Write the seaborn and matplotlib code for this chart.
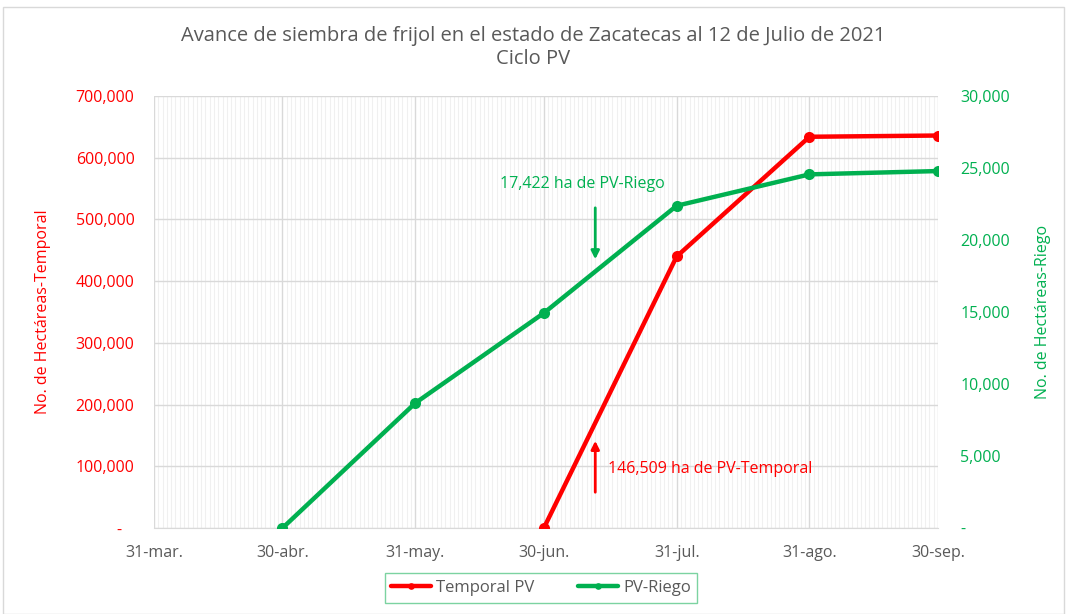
import pandas as pd
import numpy as np
import matplotlib.pyplot as plt
import matplotlib.dates as mdates
from matplotlib.ticker import FuncFormatter, MultipleLocator
from matplotlib.patches import Rectangle
import seaborn as sns

# datos
fechas = ['2021-06-30', '2021-07-31', '2021-08-31', '2021-09-30']
temporal = [0, 440000, 634000, 636000]
fechas_riego = ['2021-04-30', '2021-05-31', '2021-06-30', '2021-07-31', '2021-08-31', '2021-09-30']
riego = [0, 8680, 14930, 22380, 24560, 24790]
ticks_x = ['2021-03-31', '2021-04-30', '2021-05-31', '2021-06-30', '2021-07-31', '2021-08-31', '2021-09-30']
etiquetas_x = ['31-mar.', '30-abr.', '31-may.', '30-jun.', '31-jul.', '31-ago.', '30-sep.']
fecha_corte = '2021-07-12'

ROJO = '#FF0000'
VERDE = '#00B050'
GRIS = '#595959'

sns.set_style('white')
plt.rcParams['font.family'] = ['Open Sans', 'DejaVu Sans']

df_t = pd.DataFrame({'fecha': pd.to_datetime(fechas), 'ha': temporal})
df_r = pd.DataFrame({'fecha': pd.to_datetime(fechas_riego), 'ha': riego})

fig = plt.figure(figsize=(10.67, 6.14), dpi=100)
fig.patches.append(Rectangle((0.003, 0.0), 0.994, 0.988, transform=fig.transFigure,
                             fill=False, edgecolor='#D9D9D9', lw=1))
ax = fig.add_axes([0.1443, 0.140, 0.7348, 0.7036])
ax2 = ax.twinx()

sns.lineplot(data=df_t, x='fecha', y='ha', ax=ax, color=ROJO, lw=3.2, marker='o',
             markersize=8, markeredgewidth=0, label='Temporal PV', legend=False, zorder=5)
sns.lineplot(data=df_r, x='fecha', y='ha', ax=ax2, color=VERDE, lw=3.2, marker='o',
             markersize=8, markeredgewidth=0, label='PV-Riego', legend=False, zorder=5)

ax.set_xlim(pd.Timestamp(ticks_x[0]), pd.Timestamp(ticks_x[-1]))
ax.set_ylim(0, 700000)
ax2.set_ylim(0, 30000)
ax.yaxis.set_major_locator(MultipleLocator(100000))
ax2.yaxis.set_major_locator(MultipleLocator(5000))

fmt_izq = FuncFormatter(lambda v, p: '-   ' if v == 0 else f'{v:,.0f}')
fmt_der = FuncFormatter(lambda v, p: '-' if v == 0 else f'{v:,.0f}')
ax.yaxis.set_major_formatter(fmt_izq)
ax2.yaxis.set_major_formatter(fmt_der)

ax.set_xticks(pd.to_datetime(ticks_x))
ax.set_xticklabels(etiquetas_x)
ax.xaxis.set_minor_locator(mdates.DayLocator())

ax.grid(True, which='major', color='#D9D9D9', lw=1)
ax.grid(True, which='minor', axis='x', color='#F0F0F0', lw=0.8)
ax.set_axisbelow(True)
for a in (ax, ax2):
    for s in a.spines.values():
        s.set_visible(False)
ax.spines['bottom'].set_visible(True)
ax.spines['bottom'].set_color('#D9D9D9')

ax.tick_params(axis='y', colors=ROJO, labelsize=11.5, length=0, pad=14)
ax2.tick_params(axis='y', colors=VERDE, labelsize=11.5, length=0, pad=16)
ax.tick_params(axis='x', which='major', colors=GRIS, labelsize=11.5, length=6, pad=6)
ax.tick_params(axis='x', which='minor', length=0)

ax.set_xlabel('')
ax.set_ylabel('No. de Hectáreas-Temporal', color=ROJO, fontsize=11.5, labelpad=18)
ax2.set_ylabel('No. de Hectáreas-Riego', color=VERDE, fontsize=11.5, labelpad=18)

fig.suptitle('Avance de siembra de frijol en el estado de Zacatecas al 12 de Julio de 2021\nCiclo PV',
             color=GRIS, fontsize=14.5, y=0.958, linespacing=1.2)

# anotaciones
fc = pd.Timestamp(fecha_corte)
ax2.annotate('', xy=(fc, 18470), xytext=(fc, 22430),
             arrowprops=dict(arrowstyle='-|>', color=VERDE, lw=2, mutation_scale=12))
ax2.text(pd.Timestamp('2021-07-09'), 23900, '17,422 ha de PV-Riego', color=VERDE,
         fontsize=11.5, ha='center', va='center')
ax.annotate('', xy=(fc, 145800), xytext=(fc, 53500),
            arrowprops=dict(arrowstyle='-|>', color=ROJO, lw=2, mutation_scale=12))
ax.text(pd.Timestamp('2021-07-15'), 95000, '146,509 ha de PV-Temporal', color=ROJO,
        fontsize=11.5, ha='left', va='center')

h1, l1 = ax.get_legend_handles_labels()
h2, l2 = ax2.get_legend_handles_labels()
leg = fig.legend(h1 + h2, l1 + l2, loc='center', bbox_to_anchor=(0.507, 0.0423), ncol=2,
                 fontsize=12, frameon=True, fancybox=False, edgecolor='#5BC88A',
                 handlelength=2.4, handletextpad=0.3, columnspacing=2.6, borderpad=0.4,
                 borderaxespad=0, markerscale=0.6)
for t in leg.get_texts():
    t.set_color(GRIS)

fig.savefig('out.png', dpi=100)
